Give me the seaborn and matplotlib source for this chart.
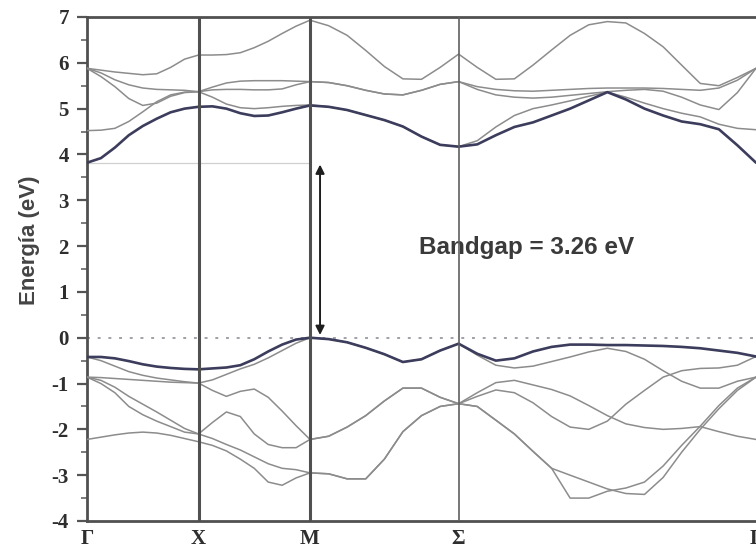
import matplotlib
matplotlib.use("Agg")
import matplotlib.pyplot as plt
import seaborn as sns
import pandas as pd

# ---- data -----------------------------------------------------------------
kpath = [0, .125, .25, .375, .5, .625, .75, .875, 1.0,
         1.125, 1.25, 1.375, 1.5, 1.625, 1.75, 1.875, 2.0,
         2.167, 2.333, 2.5, 2.667, 2.833, 3.0, 3.167, 3.333,
         3.5, 3.667, 3.833, 4.0, 4.167, 4.333, 4.5, 4.667, 4.833, 5.0,
         5.167, 5.333, 5.5, 5.667, 5.833, 6.0]

kpoint_pos = [0, 1.0, 2.0, 3.333, 6.0]
kpoint_labels = ["Γ", "X", "M", "Σ", "Γ"]

# conduction bands (eV)
cb_A = [5.88, 5.84, 5.80, 5.77, 5.74, 5.76, 5.90, 6.08, 6.17,
        6.17, 6.18, 6.22, 6.33, 6.47, 6.64, 6.80, 6.93,
        6.81, 6.60, 6.27, 5.92, 5.65, 5.64, 5.90, 6.19,
        5.90, 5.64, 5.65, 5.95, 6.28, 6.60, 6.83, 6.90, 6.87, 6.64, 6.35, 5.95, 5.55, 5.50, 5.68, 5.88]
cb_B = [5.88, 5.78, 5.63, 5.52, 5.45, 5.42, 5.41, 5.40, 5.37,
        5.47, 5.56, 5.60, 5.61, 5.61, 5.61, 5.60, 5.59,
        5.57, 5.50, 5.40, 5.32, 5.30, 5.40, 5.53, 5.59,
        5.48, 5.42, 5.39, 5.38, 5.40, 5.42, 5.44, 5.45, 5.45, 5.45, 5.44, 5.42, 5.40, 5.45, 5.62, 5.88]
cb_C = [5.88, 5.70, 5.48, 5.22, 5.07, 5.12, 5.27, 5.35, 5.37,
        5.41, 5.42, 5.42, 5.41, 5.41, 5.43, 5.52, 5.59,
        5.57, 5.50, 5.40, 5.32, 5.30, 5.40, 5.53, 5.59,
        5.42, 5.30, 5.25, 5.23, 5.25, 5.29, 5.33, 5.37, 5.40, 5.42, 5.38, 5.25, 5.08, 4.98, 5.35, 5.88]
cb_D = [4.52, 4.53, 4.57, 4.72, 4.93, 5.15, 5.30, 5.36, 5.37,
        5.25, 5.10, 5.02, 5.00, 5.02, 5.05, 5.07, 5.08,
        5.04, 4.97, 4.86, 4.75, 4.61, 4.39, 4.21, 4.17,
        4.30, 4.60, 4.85, 5.00, 5.08, 5.17, 5.27, 5.36, 5.25, 5.12, 5.00, 4.90, 4.82, 4.66, 4.57, 4.54]
cb_min = [3.82, 3.92, 4.15, 4.42, 4.62, 4.78, 4.92, 5.00, 5.04,
          5.05, 5.00, 4.90, 4.84, 4.85, 4.92, 5.00, 5.07,
          5.04, 4.97, 4.86, 4.75, 4.61, 4.39, 4.21, 4.17,
          4.22, 4.42, 4.60, 4.70, 4.85, 5.00, 5.18, 5.36, 5.20, 5.00, 4.85, 4.72, 4.66, 4.55, 4.20, 3.82]

# valence bands (eV)
vb_max = [-0.42, -0.42, -0.45, -0.51, -0.58, -0.63, -0.66, -0.68, -0.69,
          -0.67, -0.65, -0.60, -0.47, -0.30, -0.15, -0.04, 0.00,
          -0.03, -0.10, -0.22, -0.36, -0.53, -0.47, -0.28, -0.13,
          -0.35, -0.50, -0.45, -0.30, -0.20, -0.15, -0.15, -0.16, -0.16, -0.17, -0.18, -0.20, -0.23, -0.28, -0.33, -0.41]
vb_2 = [-0.42, -0.50, -0.62, -0.74, -0.82, -0.88, -0.92, -0.96, -0.99,
        -0.92, -0.80, -0.68, -0.58, -0.44, -0.28, -0.12, 0.00,
        -0.03, -0.10, -0.22, -0.36, -0.53, -0.47, -0.28, -0.13,
        -0.38, -0.60, -0.66, -0.62, -0.52, -0.42, -0.31, -0.23, -0.30, -0.47, -0.72, -0.95, -1.10, -1.10, -0.95, -0.86]
vb_3 = [-0.86, -0.87, -0.89, -0.91, -0.93, -0.95, -0.97, -0.98, -0.99,
        -1.15, -1.28, -1.17, -1.12, -1.30, -1.60, -1.92, -2.22,
        -2.15, -1.95, -1.70, -1.38, -1.10, -1.10, -1.30, -1.44,
        -1.20, -0.98, -0.93, -1.03, -1.13, -1.27, -1.48, -1.70, -1.88, -1.96, -2.00, -1.98, -1.94, -2.05, -2.15, -2.22]
vb_4 = [-0.86, -0.93, -1.08, -1.28, -1.45, -1.62, -1.80, -1.98, -2.10,
        -1.85, -1.62, -1.72, -2.10, -2.33, -2.40, -2.40, -2.22,
        -2.15, -1.95, -1.70, -1.38, -1.10, -1.10, -1.30, -1.44,
        -1.28, -1.14, -1.20, -1.42, -1.72, -1.95, -2.00, -1.82, -1.45, -1.15, -0.86, -0.72, -0.67, -0.66, -0.60, -0.41]
vb_5 = [-0.86, -1.00, -1.20, -1.50, -1.68, -1.82, -1.94, -2.06, -2.10,
        -2.20, -2.33, -2.45, -2.60, -2.75, -2.85, -2.88, -2.95,
        -2.97, -3.08, -3.08, -2.65, -2.05, -1.70, -1.50, -1.44,
        -1.50, -1.80, -2.10, -2.48, -2.85, -3.50, -3.50, -3.35, -3.28, -3.15, -2.80, -2.35, -1.93, -1.48, -1.10, -0.86]
vb_6 = [-2.22, -2.17, -2.12, -2.08, -2.06, -2.08, -2.13, -2.20, -2.27,
        -2.35, -2.47, -2.65, -2.85, -3.15, -3.22, -3.06, -2.95,
        -2.97, -3.08, -3.08, -2.65, -2.05, -1.70, -1.50, -1.44,
        -1.50, -1.80, -2.10, -2.48, -2.85, -3.00, -3.15, -3.30, -3.40, -3.42, -3.05, -2.50, -2.00, -1.55, -1.15, -0.86]

gap_text = "Bandgap = 3.26 eV"
cbm_level = 3.82
arrow_k = 2.09

# ---- build long table --------------------------------------------------------
bands = {"cb_A": cb_A, "cb_B": cb_B, "cb_C": cb_C, "cb_D": cb_D, "cb_min": cb_min,
         "vb_max": vb_max, "vb_2": vb_2, "vb_3": vb_3, "vb_4": vb_4, "vb_5": vb_5, "vb_6": vb_6}
rows = []
for name, vals in bands.items():
    for kk, e in zip(kpath, vals):
        rows.append({"k": kk, "E": e, "band": name})
df = pd.DataFrame(rows)

sns.set_theme(style="white")
plt.rcParams["font.family"] = ["Liberation Sans", "DejaVu Sans"]

fig = plt.figure(figsize=(7.56, 5.58), dpi=100)
ax = fig.add_axes([87 / 756, 37 / 558, 669 / 756, 504 / 558])

gray = "#8c8c8c"
dark = "#3c3c5c"
for name in bands:
    sub = df[df["band"] == name]
    is_edge = name in ("cb_min", "vb_max")
    sns.lineplot(data=sub, x="k", y="E", ax=ax, sort=False, estimator=None,
                 color=dark if is_edge else gray,
                 linewidth=1.9 if is_edge else 1.1, zorder=4 if is_edge else 3,
                 legend=False)

# Fermi level and CBM reference
ax.plot([kpath[0], kpath[-1]], [0, 0], linestyle=(0, (1.5, 4)), color="#a0a0a8",
        linewidth=1.4, zorder=2)
ax.plot([kpath[0], kpoint_pos[2]], [cbm_level, cbm_level], color="#d0d0d0",
        linewidth=0.9, zorder=1)

# high-symmetry vertical lines
ax.axvline(kpoint_pos[1], color="#505050", linewidth=2.2, zorder=5)
ax.axvline(kpoint_pos[2], color="#505050", linewidth=2.2, zorder=5)
ax.axvline(kpoint_pos[3], color="#606060", linewidth=1.2, zorder=5)

# band gap arrow + text
ax.annotate("", xy=(arrow_k, cbm_level - 0.04), xytext=(arrow_k, 0.06),
            arrowprops=dict(arrowstyle="<|-|>", color="#1e1e1e", lw=1.4,
                            mutation_scale=13, shrinkA=0, shrinkB=0), zorder=6)
ax.text(3.94, 1.96, gap_text, ha="center", va="center", fontsize=17.5,
        fontweight="bold", color="#3a3a3a", family=["Liberation Sans", "DejaVu Sans"])

ax.set_xlim(kpath[0], kpath[-1])
ax.set_ylim(-4, 7)
ax.set_xticks(kpoint_pos)
ax.set_xticklabels(kpoint_labels)
ax.set_yticks(list(range(-4, 8)))
ax.set_yticklabels([str(v) for v in range(-4, 8)])
ax.set_yticks([v + 0.5 for v in range(-4, 7)], minor=True)

for lab in ax.get_xticklabels() + ax.get_yticklabels():
    lab.set_family(["Liberation Serif", "DejaVu Serif"])
    lab.set_fontweight("bold")
    lab.set_fontsize(15)
    lab.set_color("#2e2e2e")

ax.tick_params(axis="y", which="major", direction="out", length=7, width=1.6,
               color="#555555", pad=6, left=True)
ax.tick_params(axis="y", which="minor", direction="out", length=4, width=1.2,
               color="#666666", left=True)
ax.tick_params(axis="x", which="major", length=0, pad=6)

ax.set_xlabel("")
ax.set_ylabel("Energía (eV)", fontsize=16, fontweight="bold", color="#444444")
ax.yaxis.set_label_coords(-0.07, (521 - 240) / 504)

for side in ("left", "bottom", "top"):
    ax.spines[side].set_visible(True)
    ax.spines[side].set_color("#505050")
    ax.spines[side].set_linewidth(2.0)
ax.spines["right"].set_visible(False)
ax.grid(False)
ax.set_facecolor("white")

fig.savefig("out.png", dpi=100)
